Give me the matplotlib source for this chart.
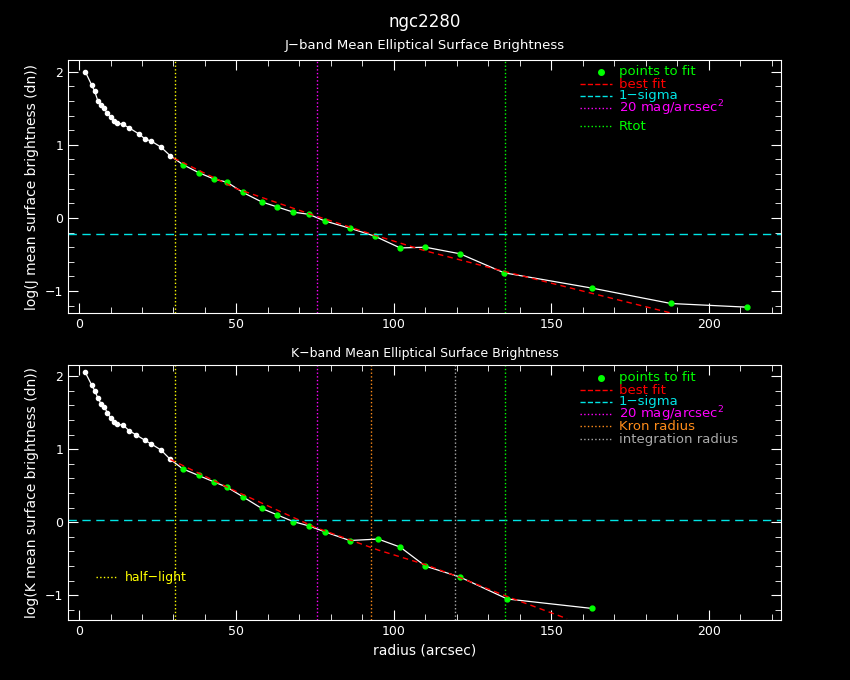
import numpy as np
import matplotlib
matplotlib.use("Agg")
import matplotlib.pyplot as plt
from matplotlib.ticker import MultipleLocator

# J band
j_r_in = [2, 4, 5, 6, 7, 8, 9, 10, 11, 12, 14, 16, 19, 21, 23, 26, 29]
j_v_in = [2.0, 1.82, 1.73, 1.6, 1.55, 1.5, 1.43, 1.38, 1.33, 1.3, 1.28, 1.23, 1.15, 1.08, 1.05, 0.97, 0.85]
j_r_fit = [33, 38, 43, 47, 52, 58, 63, 68, 73, 78, 86, 94, 102, 110, 121, 135, 163, 188, 212]
j_v_fit = [0.73, 0.62, 0.53, 0.49, 0.35, 0.22, 0.15, 0.08, 0.05, -0.04, -0.14, -0.25, -0.41, -0.40,
           -0.49, -0.75, -0.96, -1.17, -1.22]
j_best_r = [30, 50, 75, 95, 110, 135, 160, 188]
j_best_v = [0.82, 0.40, 0.03, -0.25, -0.45, -0.73, -1.0, -1.3]
j_sigma = -0.22

# K band
k_r_in = [2, 4, 5, 6, 7, 8, 9, 10, 11, 12, 14, 16, 18, 21, 23, 26, 29]
k_v_in = [2.05, 1.88, 1.80, 1.7, 1.62, 1.58, 1.5, 1.43, 1.37, 1.34, 1.33, 1.25, 1.2, 1.12, 1.07, 0.99, 0.86]
k_r_fit = [33, 38, 43, 47, 52, 58, 63, 68, 73, 78, 86, 95, 102, 110, 121, 136, 163]
k_v_fit = [0.73, 0.64, 0.55, 0.48, 0.35, 0.19, 0.1, 0.01, -0.05, -0.13, -0.25, -0.23, -0.34,
           -0.60, -0.75, -1.05, -1.18]
k_best_r = [29, 50, 75, 95, 110, 120, 135, 155]
k_best_v = [0.86, 0.42, -0.07, -0.38, -0.58, -0.74, -1.0, -1.32]
k_sigma = 0.03

r_half = 30.5
r_20 = 75.5
r_kron = 92.7
r_int = 119.4
r_tot = 135.2

plt.rcParams['font.family'] = 'DejaVu Sans'
fig = plt.figure(figsize=(8.5, 6.8), dpi=100, facecolor='black')
ax1 = fig.add_axes([0.08, 0.5397, 0.839, 0.372], facecolor='black')
ax2 = fig.add_axes([0.08, 0.088, 0.839, 0.375], facecolor='black')

def style(ax, ylim):
    ax.set_xlim(-3.5, 223)
    ax.set_ylim(*ylim)
    for s in ax.spines.values():
        s.set_color('white')
    ax.xaxis.set_major_locator(MultipleLocator(50))
    ax.xaxis.set_minor_locator(MultipleLocator(10))
    ax.yaxis.set_major_locator(MultipleLocator(1))
    ax.yaxis.set_minor_locator(MultipleLocator(0.2))
    ax.tick_params(which='both', direction='in', colors='white', top=True, right=True, labelsize=9)
    ax.tick_params(which='major', length=7)
    ax.tick_params(which='minor', length=4)

def draw(ax, r_in, v_in, r_fit, v_fit, br, bv, sig):
    ax.plot(r_in + r_fit, v_in + v_fit, color='white', lw=0.9)
    ax.plot(r_in, v_in, 'o', color='white', ms=3)
    ax.plot(r_fit, v_fit, 'o', color='#00ff00', ms=3.5)
    ax.plot(br, bv, '--', color='red', lw=1, dashes=(4, 3))
    ax.axhline(sig, color='#00e5e5', ls='--', lw=1, dashes=(6, 4))
    ax.axvline(r_half, color='yellow', ls=':', lw=1)
    ax.axvline(r_20, color='magenta', ls=':', lw=1)
    ax.axvline(r_tot, color='#00ff00', ls=':', lw=1)

style(ax1, (-1.30, 2.16))
draw(ax1, j_r_in, j_v_in, j_r_fit, j_v_fit, j_best_r, j_best_v, j_sigma)
style(ax2, (-1.34, 2.15))
draw(ax2, k_r_in, k_v_in, k_r_fit, k_v_fit, k_best_r, k_best_v, k_sigma)
ax2.axvline(r_kron, color='#ff8c1a', ls=':', lw=1)
ax2.axvline(r_int, color='#aaaaaa', ls=':', lw=1)

ax1.set_ylabel('log(J mean surface brightness (dn))', color='white', fontsize=10)
ax2.set_ylabel('log(K mean surface brightness (dn))', color='white', fontsize=10)
ax2.set_xlabel('radius (arcsec)', color='white', fontsize=10)
fig.text(0.5, 1 - 22 / 680, 'ngc2280', color='white', ha='center', va='center', fontsize=12)
fig.text(0.5, 1 - 45 / 680, 'J\u2212band Mean Elliptical Surface Brightness', color='white',
         ha='center', va='center', fontsize=9.5)
fig.text(0.5, 1 - 353 / 680, 'K\u2212band Mean Elliptical Surface Brightness', color='white',
         ha='center', va='center', fontsize=9)

def legend(ys, labels, colors, styles):
    for y, lab, c, st in zip(ys, labels, colors, styles):
        yf = 1 - y / 680
        if st == 'o':
            fig.lines.append(plt.Line2D([601 / 850], [yf], marker='o', color=c, ms=4,
                                        transform=fig.transFigure))
        else:
            fig.lines.append(plt.Line2D([580 / 850, 612 / 850], [yf, yf], ls=st, color=c, lw=1,
                                        transform=fig.transFigure))
        fig.text(619 / 850, yf, lab, color=c, va='center', fontsize=9.5)

legend([72, 84, 96, 108, 126],
       ['points to fit', 'best fit', '1\u2212sigma', '20 mag/arcsec$^2$', 'Rtot'],
       ['#00ff00', 'red', '#00e5e5', 'magenta', '#00ff00'],
       ['o', '--', '--', ':', ':'])
legend([378, 390, 402, 414, 426, 439],
       ['points to fit', 'best fit', '1\u2212sigma', '20 mag/arcsec$^2$', 'Kron radius',
        'integration radius'],
       ['#00ff00', 'red', '#00e5e5', 'magenta', '#ff8c1a', '#aaaaaa'],
       ['o', '--', '--', ':', ':', ':'])

fig.lines.append(plt.Line2D([96 / 850, 118 / 850], [1 - 577 / 680] * 2, ls=':', color='yellow',
                            lw=1, transform=fig.transFigure))
fig.text(125 / 850, 1 - 577 / 680, 'half\u2212light', color='yellow', va='center', fontsize=9)

fig.savefig('out.png', dpi=100, facecolor='black')
